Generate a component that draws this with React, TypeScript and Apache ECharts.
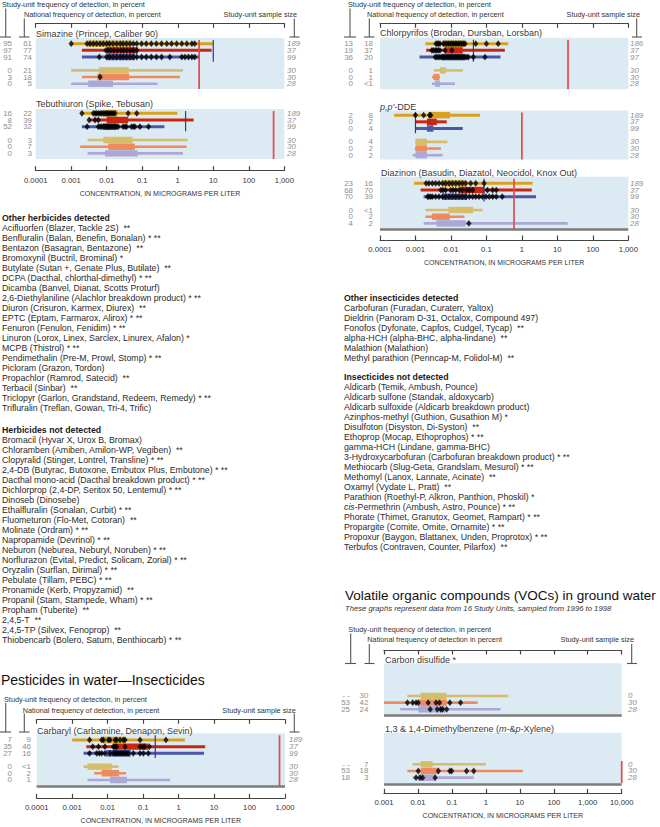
import React, { useEffect, useRef } from 'react';
import * as echarts from 'echarts';

const SANS = "'Liberation Sans', Arial, Helvetica, sans-serif";

// ---------- axis tick labels ----------
const PESTICIDE_TICKS = ['0.0001', '0.001', '0.01', '0.1', '1', '10', '100', '1,000'];
const VOC_TICKS = ['0.001', '0.01', '0.1', '1', '10', '100', '1,000', '10,000'];
const AXIS_TITLE = 'CONCENTRATION, IN MICROGRAMS PER LITER';

// row slots: 0-2 first group, 4-6 second group
const PESTICIDE_SLOTS = [0, 1, 2, 4, 5, 6];
const VOC_SLOTS = [4, 5, 6];

// ---------- Simazine ----------  [min, box low, box high, max]
const simazineBox = [
  [0.001, 0.003, 0.05, 10],
  [0.002, 0.01, 0.075, 9],
  [0.002, 0.01, 0.062, 4.2],
  [0.001, 0.006, 0.042, 1.4],
  [0.002, 0.0054, 0.043, 1.15],
  [0.001, 0.003, 0.015, 0.27],
];
const simazineHits = [
  [0.001, 0.0028, 0.0034, 0.0042, 0.0052, 0.0065, 0.008, 0.01, 0.012, 0.015, 0.019, 0.024, 0.029, 0.036, 0.045, 0.056, 0.07, 0.096, 0.13, 0.18, 0.25, 0.35, 0.49, 0.67, 0.93, 1.3, 1.8, 2.5, 3.0],
  [0.0095, 0.011, 0.013, 0.016, 0.02, 0.025, 0.03, 0.037, 0.046, 0.056, 0.07],
  [0.0062, 0.01, 0.012, 0.015, 0.019, 0.024, 0.029, 0.036, 0.045, 0.056, 0.07, 0.096, 0.13, 0.18, 0.25, 0.35, 0.6, 1.3, 1.6, 2.0, 2.5, 3.0],
  [],
  [0.0065],
  [],
];
const simazineStudyFreq = ['95', '97', '91', '0', '3', '0'];
const simazineNationalFreq = ['61', '77', '74', '21', '18', '5'];
const simazineSamples = ['189', '37', '99', '30', '30', '28'];
const simazineGuides = [10, 4]; // [benchmark (blue), criterion (red)]

// ---------- Tebuthiuron ----------
const tebuthiuronBox = [
  [0.002, 0.008, 0.02, 0.98],
  [0.0032, 0.01, 0.04, 2.8],
  [0.002, 0.008, 0.019, 0.42],
  [0.0029, 0.008, 0.053, 1.9],
  [0.0018, 0.011, 0.062, 1.77],
  [0.0029, 0.009, 0.074, 1.4],
];
const tebuthiuronHits = [
  [0.002, 0.0042, 0.0047, 0.0052, 0.0058, 0.0065, 0.0072, 0.008, 0.009, 0.01, 0.011, 0.012, 0.0135, 0.015, 0.017, 0.04, 0.07],
  [0.0032, 0.0047, 0.0058],
  [0.0028, 0.0058, 0.0065, 0.0072, 0.008, 0.009, 0.01, 0.011, 0.012, 0.0135, 0.015, 0.017, 0.019, 0.021, 0.029, 0.033, 0.036, 0.05, 0.056, 0.062, 0.086, 0.15],
  [],
  [],
  [],
];
const tebuthiuronStudyFreq = ['16', '8', '52', '0', '0', '0'];
const tebuthiuronNationalFreq = ['22', '39', '32', '3', '7', '3'];
const tebuthiuronSamples = ['189', '37', '99', '30', '30', '28'];
const tebuthiuronGuides = [1.66, 500];

// ---------- Chlorpyrifos ----------
const chlorpyrifosBox = [
  [0.0019, 0.0061, 0.025, 0.41],
  [0.002, 0.0068, 0.0215, 0.33],
  [0.0013, 0.0055, 0.025, 0.25],
  [0.0033, 0.0049, 0.0072, 0.0215],
  [0.0029, 0.0032, 0.0047, 0.0049],
  [0.0029, 0.0036, 0.0049, 0.013],
];
const chlorpyrifosHits = [
  [0.0038, 0.0041, 0.0045, 0.0049, 0.0061, 0.0068, 0.0076, 0.0085, 0.0095, 0.0106, 0.0118, 0.0132, 0.0147, 0.0164, 0.0183, 0.0204, 0.0228, 0.0251, 0.0498, 0.1, 0.215],
  [0.0029, 0.0032, 0.0036, 0.004, 0.0044, 0.0049, 0.0068, 0.0106],
  [0.0036, 0.004, 0.0044, 0.0049, 0.0055, 0.0061, 0.0068, 0.0076, 0.0085, 0.0095, 0.0106, 0.0118, 0.0132, 0.0147, 0.0164, 0.0183, 0.0204, 0.0228, 0.0251, 0.028, 0.031, 0.043, 0.091],
  [],
  [],
  [],
];
const chlorpyrifosStudyFreq = ['13', '19', '36', '0', '0', '0'];
const chlorpyrifosNationalFreq = ['18', '37', '20', '1', '1', '<1'];
const chlorpyrifosSamples = ['186', '37', '97', '30', '30', '28'];
const chlorpyrifosGuides = [0.043, 20];

// ---------- p,p'-DDE ----------
const ddeBox = [
  [0.00025, 0.0023, 0.0094, 0.066],
  [0.001, 0.0021, 0.004, 0.0076],
  [0.001, 0.0021, 0.0032, 0.0215],
  [0.001, 0.001, 0.0021, 0.0079],
  [0.00096, 0.001, 0.0021, 0.0052],
  [0.00083, 0.001, 0.0021, 0.0058],
];
const ddeHits = [[0.001, 0.0017, 0.0025, 0.0027], [], [], [], [], []];
const ddeStudyFreq = ['2', '0', '0', '0', '0', '0'];
const ddeNationalFreq = ['8', '2', '4', '4', '2', '2'];
const ddeSamples = ['189', '37', '99', '30', '30', '28'];
const ddeGuides = [0.001, 1];

// ---------- Diazinon ----------
const diazinonBox = [
  [0.00091, 0.0058, 0.026, 2.0],
  [0.0014, 0.017, 0.086, 1.9],
  [0.0017, 0.0058, 0.029, 2.5],
  [0.0019, 0.0085, 0.042, 0.078],
  [0.0019, 0.0029, 0.0092, 0.024],
  [0.0017, 0.0039, 0.026, 19.6],
];
const diazinonHits = [
  [0.002, 0.0024, 0.003, 0.0037, 0.0046, 0.0058, 0.0071, 0.0089, 0.011, 0.0137, 0.017, 0.021, 0.026, 0.036, 0.05, 0.086],
  [0.0052, 0.006, 0.0071, 0.0098, 0.0115, 0.0137, 0.017, 0.021, 0.027, 0.033, 0.041, 0.107, 0.15, 0.19],
  [0.0022, 0.0024, 0.0027, 0.003, 0.0037, 0.0046, 0.0058, 0.0071, 0.0089, 0.011, 0.0137, 0.017, 0.021, 0.026, 0.033, 0.041, 0.05, 0.062, 0.078, 0.097, 0.12, 0.15, 0.19, 0.28],
  [],
  [],
  [0.032],
];
const diazinonStudyFreq = ['23', '68', '70', '0', '0', '4'];
const diazinonNationalFreq = ['16', '70', '39', '<1', '2', '2'];
const diazinonSamples = ['189', '37', '99', '30', '30', '28'];
const diazinonGuides = [0.086, 0.6];

// ---------- Carbaryl ----------
const carbarylBox = [
  [0.001, 0.0068, 0.031, 1.5],
  [0.0025, 0.0145, 0.14, 5.6],
  [0.0021, 0.009, 0.045, 5.2],
  [0.0021, 0.0027, 0.013, 0.02],
  [0.0042, 0.0068, 0.021, 0.033],
  [0.0027, 0.0117, 0.035, 0.58],
];
const carbarylHits = [
  [0.0031, 0.0068, 0.0076, 0.0105, 0.0117, 0.0162, 0.018, 0.0224, 0.0278, 0.031, 0.082, 0.44],
  [0.0038, 0.0055, 0.0084, 0.0145, 0.0162, 0.018, 0.031, 0.082, 0.097, 0.11, 0.15],
  [0.0031, 0.0049, 0.0058, 0.0068, 0.0084, 0.0117, 0.0145, 0.0162, 0.018, 0.02, 0.0224, 0.025, 0.0278, 0.031, 0.0346, 0.0385, 0.053, 0.082, 0.102, 0.14],
  [],
  [],
  [],
];
const carbarylStudyFreq = ['7', '35', '27', '0', '0', '0'];
const carbarylNationalFreq = ['9', '46', '16', '<1', '2', '1'];
const carbarylSamples = ['189', '37', '99', '30', '30', '28'];
const carbarylGuides = [0.22, 700];

// ---------- Carbon disulfide (VOC) ----------
const carbonDisulfideBox = [
  [0.0049, 0.012, 0.07, 4.6],
  [0.001, 0.0102, 0.07, 0.57],
  [0.003, 0.0102, 0.063, 2.7],
];
const carbonDisulfideHits = [
  [],
  [0.0049, 0.007, 0.0088, 0.0102, 0.02, 0.034, 0.043, 0.087, 0.18],
  [0.023, 0.037, 0.047, 0.053, 0.07],
];
const carbonDisulfideStudyFreq = ['- -', '53', '25'];
const carbonDisulfideNationalFreq = ['30', '42', '24'];
const carbonDisulfideSamples = ['0', '30', '28'];
const carbonDisulfideGuides = [null, null];

// ---------- m- & p-Xylene (VOC) ----------
const xyleneBox = [
  [0.007, 0.012, 0.027, 1.0],
  [0.0049, 0.012, 0.04, 12.2],
  [0.007, 0.0102, 0.034, 0.44],
];
const xyleneHits = [
  [],
  [0.0102, 0.04, 0.087, 0.098, 0.27, 0.44],
  [0.0088, 0.0115, 0.0137, 0.032],
];
const xyleneStudyFreq = ['- -', '53', '18'];
const xyleneNationalFreq = ['7', '18', '3'];
const xyleneSamples = ['0', '30', '28'];
const xyleneGuides = [null, 10000];

// ---------- lists ----------
const otherHerbicidesDetected = [
  'Acifluorfen (Blazer, Tackle 2S)  **',
  'Benfluralin (Balan, Benefin, Bonalan) * **',
  'Bentazon (Basagran, Bentazone)  **',
  'Bromoxynil (Buctril, Brominal) *',
  'Butylate (Sutan +, Genate Plus, Butilate)  **',
  'DCPA (Dacthal, chlorthal-dimethyl) * **',
  'Dicamba (Banvel, Dianat, Scotts Proturf)',
  '2,6-Diethylaniline (Alachlor breakdown product) * **',
  'Diuron (Crisuron, Karmex, Diurex)  **',
  'EPTC (Eptam, Farmarox, Alirox) * **',
  'Fenuron (Fenulon, Fenidim) * **',
  'Linuron (Lorox, Linex, Sarclex, Linurex, Afalon) *',
  'MCPB (Thistrol) * **',
  'Pendimethalin (Pre-M, Prowl, Stomp) * **',
  'Picloram (Grazon, Tordon)',
  'Propachlor (Ramrod, Satecid)  **',
  'Terbacil (Sinbar)  **',
  'Triclopyr (Garlon, Grandstand, Redeem, Remedy) * **',
  'Trifluralin (Treflan, Gowan, Tri-4, Trific)',
];
const herbicidesNotDetected = [
  'Bromacil (Hyvar X, Urox B, Bromax)',
  'Chloramben (Amiben, Amilon-WP, Vegiben)  **',
  'Clopyralid (Stinger, Lontrel, Transline) * **',
  '2,4-DB (Butyrac, Butoxone, Embutox Plus, Embutone) * **',
  'Dacthal mono-acid (Dacthal breakdown product) * **',
  'Dichlorprop (2,4-DP, Seritox 50, Lentemul) * **',
  'Dinoseb (Dinosebe)',
  'Ethalfluralin (Sonalan, Curbit) * **',
  'Fluometuron (Flo-Met, Cotoran)  **',
  'Molinate (Ordram) * **',
  'Napropamide (Devrinol) * **',
  'Neburon (Neburea, Neburyl, Noruben) * **',
  'Norflurazon (Evital, Predict, Solicam, Zorial) * **',
  'Oryzalin (Surflan, Dirimal) * **',
  'Pebulate (Tillam, PEBC) * **',
  'Pronamide (Kerb, Propyzamid)  **',
  'Propanil (Stam, Stampede, Wham) * **',
  'Propham (Tuberite)  **',
  '2,4,5-T  **',
  '2,4,5-TP (Silvex, Fenoprop)  **',
  'Thiobencarb (Bolero, Saturn, Benthiocarb) * **',
];
const otherInsecticidesDetected = [
  'Carbofuran (Furadan, Curaterr, Yaltox)',
  'Dieldrin (Panoram D-31, Octalox, Compound 497)',
  'Fonofos (Dyfonate, Capfos, Cudgel, Tycap)  **',
  'alpha-HCH (alpha-BHC, alpha-lindane)  **',
  'Malathion (Malathion)',
  'Methyl parathion (Penncap-M, Folidol-M)  **',
];
const insecticidesNotDetected = [
  'Aldicarb (Temik, Ambush, Pounce)',
  'Aldicarb sulfone (Standak, aldoxycarb)',
  'Aldicarb sulfoxide (Aldicarb breakdown product)',
  'Azinphos-methyl (Guthion, Gusathion M) *',
  'Disulfoton (Disyston, Di-Syston)  **',
  'Ethoprop (Mocap, Ethoprophos) * **',
  'gamma-HCH (Lindane, gamma-BHC)',
  '3-Hydroxycarbofuran (Carbofuran breakdown product) * **',
  'Methiocarb (Slug-Geta, Grandslam, Mesurol) * **',
  'Methomyl (Lanox, Lannate, Acinate)  **',
  'Oxamyl (Vydate L, Pratt)  **',
  'Parathion (Roethyl-P, Alkron, Panthion, Phoskil) *',
  'cis-Permethrin (Ambush, Astro, Pounce) * **',
  'Phorate (Thimet, Granutox, Geomet, Rampart) * **',
  'Propargite (Comite, Omite, Ornamite) * **',
  'Propoxur (Baygon, Blattanex, Unden, Proprotox) * **',
  'Terbufos (Contraven, Counter, Pilarfox)  **',
];

// ---------- styles ----------
const SLOT_COLORS = ['#D9A21E', '#C9260F', '#4C57A7', '', '#D6BD6C', '#EF8A5E', '#ABA8D6'];
const PLOT_BG = '#DCEAF4';
const AXIS_COLOR = '#444';
const NUM_COLOR = '#8E8E8E';
const BLUE_GUIDE = '#2B3A8F';
const RED_GUIDE = '#E5484E';
const ROW_UNIT = 6.67;
const LIST_FONT = 8.75;
const LIST_STEP = 10;

const PANELS: any[] = [
  { title: 'Simazine (Princep, Caliber 90)', box: simazineBox, hits: simazineHits, study: simazineStudyFreq, national: simazineNationalFreq, samples: simazineSamples, guides: simazineGuides, slots: PESTICIDE_SLOTS, ticks: PESTICIDE_TICKS, xMin: 1e-4, xMax: 1e3,
    left: 35.7, top: 38, width: 248.6, height: 51, yMin: -0.85, topAxisY: 23.3, titleXY: [36, 33.5], numX: [12, 32, 287] },
  { title: 'Tebuthiuron (Spike, Tebusan)', box: tebuthiuronBox, hits: tebuthiuronHits, study: tebuthiuronStudyFreq, national: tebuthiuronNationalFreq, samples: tebuthiuronSamples, guides: tebuthiuronGuides, slots: PESTICIDE_SLOTS, ticks: PESTICIDE_TICKS, xMin: 1e-4, xMax: 1e3,
    left: 35.7, top: 109, width: 248.6, height: 50, yMin: -0.65, bottomAxisY: 170.7, titleXY: [36, 104], numX: [12, 32, 287] },
  { title: 'Chlorpyrifos (Brodan, Dursban, Lorsban)', box: chlorpyrifosBox, hits: chlorpyrifosHits, study: chlorpyrifosStudyFreq, national: chlorpyrifosNationalFreq, samples: chlorpyrifosSamples, guides: chlorpyrifosGuides, slots: PESTICIDE_SLOTS, ticks: PESTICIDE_TICKS, xMin: 1e-4, xMax: 1e3,
    left: 380, top: 37.7, width: 248.3, height: 51.6, yMin: -0.9, topAxisY: 23.3, titleXY: [380, 33.3], numX: [353, 373, 630] },
  { title: "{i|p,p'}-DDE", rich: true, box: ddeBox, hits: ddeHits, study: ddeStudyFreq, national: ddeNationalFreq, samples: ddeSamples, guides: ddeGuides, slots: PESTICIDE_SLOTS, ticks: PESTICIDE_TICKS, xMin: 1e-4, xMax: 1e3,
    left: 380, top: 110.5, width: 248.3, height: 49, yMin: -0.7, titleXY: [380, 106.5], numX: [353, 373, 630] },
  { title: 'Diazinon (Basudin, Diazatol, Neocidol, Knox Out)', box: diazinonBox, hits: diazinonHits, study: diazinonStudyFreq, national: diazinonNationalFreq, samples: diazinonSamples, guides: diazinonGuides, slots: PESTICIDE_SLOTS, ticks: PESTICIDE_TICKS, xMin: 1e-4, xMax: 1e3,
    left: 380, top: 176.7, width: 248.3, height: 52.3, yMin: -1.0, bottomAxisY: 240, titleXY: [381, 173.3], numX: [353, 373, 630] },
  { title: 'Carbaryl (Carbamine, Denapon, Sevin)', box: carbarylBox, hits: carbarylHits, study: carbarylStudyFreq, national: carbarylNationalFreq, samples: carbarylSamples, guides: carbarylGuides, slots: PESTICIDE_SLOTS, ticks: PESTICIDE_TICKS, xMin: 1e-4, xMax: 1e3,
    left: 36.7, top: 733.3, width: 248.3, height: 52.7, yMin: -1.0, topAxisY: 719.3, bottomAxisY: 798.3, titleXY: [37, 730.7], numX: [12, 31, 289] },
  { title: 'Carbon disulfide *', box: carbonDisulfideBox, hits: carbonDisulfideHits, study: carbonDisulfideStudyFreq, national: carbonDisulfideNationalFreq, samples: carbonDisulfideSamples, guides: carbonDisulfideGuides, slots: VOC_SLOTS, ticks: VOC_TICKS, xMin: 1e-3, xMax: 1e4,
    left: 384, top: 663.3, width: 237.7, height: 51.7, yMin: -0.9, topAxisY: 650, titleXY: [385, 659.5], numX: [350, 368.3, 628] },
  { title: '1,3 & 1,4-Dimethylbenzene ({i|m}-&{i|p}-Xylene)', rich: true, box: xyleneBox, hits: xyleneHits, study: xyleneStudyFreq, national: xyleneNationalFreq, samples: xyleneSamples, guides: xyleneGuides, slots: VOC_SLOTS, ticks: VOC_TICKS, xMin: 1e-3, xMax: 1e4,
    left: 384, top: 732.7, width: 237.7, height: 51.3, yMin: -0.74, bottomAxisY: 793.3, titleXY: [385, 729], numX: [350, 368.3, 628], redGroup2: true },
];

function txt(x: number, y: number, text: string, o: any = {}) {
  const fontSize = o.fontSize || LIST_FONT;
  const style: any = {
    text,
    x: 0,
    y: 0,
    fill: o.fill || '#222',
    fontSize,
    fontFamily: o.fontFamily || SANS,
    fontWeight: o.fontWeight || 'normal',
    fontStyle: o.fontStyle || 'normal',
    align: o.align || 'left',
    textAlign: o.align || 'left',
    verticalAlign: 'middle',
    textVerticalAlign: 'middle',
  };
  if (o.rich) {
    style.rich = {
      i: { fontStyle: 'italic', fontSize, fontFamily: o.fontFamily || SANS, fill: o.fill || '#222' },
    };
  }
  return { type: 'text', x, y, silent: true, style };
}

function seg(x1: number, y1: number, x2: number, y2: number, color = '#555', w = 1.1) {
  return { type: 'line', silent: true, shape: { x1, y1, x2, y2 }, style: { stroke: color, lineWidth: w } };
}

function headerBlock(els: any[], c: any) {
  const hs = { fontSize: 7.3, fill: '#333' };
  els.push(txt(c.study[0], c.study[1], 'Study-unit frequency of detection, in percent', hs));
  els.push(txt(c.national[0], c.national[1], c.nationalText, hs));
  els.push(txt(c.size[0], c.size[1], 'Study-unit sample size', { ...hs, align: 'right' }));
  c.brackets.forEach((b: number[]) => {
    els.push(seg(b[0], b[1], b[0], b[2]));
    els.push(seg(b[3], b[2], b[4], b[2]));
  });
}

function listBlock(els: any[], x: number, y0: number, gap: number, h1: string, items1: string[], h2: string, items2: string[]) {
  let y = y0;
  els.push(txt(x, y, h1, { fontWeight: 'bold', fill: '#1a1a1a' }));
  items1.forEach((t) => { y += LIST_STEP; els.push(txt(x, y, t, { fill: '#2a2a2a' })); });
  y += LIST_STEP + gap;
  els.push(txt(x, y, h2, { fontWeight: 'bold', fill: '#1a1a1a' }));
  items2.forEach((t) => {
    y += LIST_STEP;
    if (t.startsWith('cis-')) els.push(txt(x, y, '{i|cis}' + t.slice(3), { fill: '#2a2a2a', rich: true }));
    else els.push(txt(x, y, t, { fill: '#2a2a2a' }));
  });
}

function buildOption() {
  const grid: any[] = [];
  const xAxis: any[] = [];
  const yAxis: any[] = [];
  const series: any[] = [];
  const elements: any[] = [];

  PANELS.forEach((p, gi) => {
    const yMax = p.yMin + p.height / ROW_UNIT;
    grid.push({ left: p.left, top: p.top, width: p.width, height: p.height, show: true, backgroundColor: PLOT_BG, borderWidth: 0, outerBoundsMode: 'none', containLabel: false });
    yAxis.push({ type: 'value', gridIndex: gi, min: p.yMin, max: yMax, inverse: true, show: false });
    const base = { type: 'log', logBase: 10, gridIndex: gi, min: p.xMin, max: p.xMax, splitNumber: 7, splitLine: { show: false }, minorTick: { show: false } };
    const axisLine = { show: true, onZero: false, lineStyle: { color: AXIS_COLOR, width: 1.2 } };
    const axisTick = { show: true, inside: true, length: 4.5, lineStyle: { color: AXIS_COLOR, width: 1.2 } };
    let main = -1;
    if (p.topAxisY != null) {
      xAxis.push({ ...base, position: 'top', offset: p.top - p.topAxisY, axisLine, axisTick, axisLabel: { show: false } });
      main = xAxis.length - 1;
    }
    if (p.bottomAxisY != null) {
      const minExp = Math.round(Math.log10(p.xMin));
      xAxis.push({
        ...base, position: 'bottom', offset: p.bottomAxisY - (p.top + p.height), axisLine, axisTick,
        axisLabel: {
          show: true, margin: 5.5, fontSize: 7.7, color: '#333', fontFamily: SANS, showMinLabel: true, showMaxLabel: true,
          formatter: (v: number) => p.ticks[Math.round(Math.log10(v)) - minExp] ?? '',
        },
        name: AXIS_TITLE, nameLocation: 'middle', nameGap: 19,
        nameTextStyle: { fontSize: 7, color: '#333', fontFamily: SANS },
      });
      if (main < 0) main = xAxis.length - 1;
    }
    if (main < 0) {
      xAxis.push({ ...base, show: false });
      main = xAxis.length - 1;
    }

    // whiskers + boxes
    series.push({
      type: 'custom', xAxisIndex: main, yAxisIndex: gi, silent: true, clip: false, z: 2,
      dimensions: ['slot', 'min', 'low', 'high', 'max'],
      encode: { x: [1, 2, 3, 4], y: 0 },
      data: p.box.map((b: number[], i: number) => [p.slots[i], ...b]),
      renderItem: (params: any, api: any) => {
        const slot = api.value(0);
        const a = api.coord([api.value(1), slot]);
        const l = api.coord([api.value(2), slot]);
        const h = api.coord([api.value(3), slot]);
        const b = api.coord([api.value(4), slot]);
        const color = SLOT_COLORS[slot];
        const wh = slot < 3 ? 3 : 2.6;
        const bh = 6.4;
        return {
          type: 'group',
          children: [
            { type: 'rect', shape: { x: a[0], y: a[1] - wh / 2, width: Math.max(b[0] - a[0], 1), height: wh }, style: { fill: color } },
            { type: 'rect', shape: { x: l[0], y: l[1] - bh / 2, width: Math.max(h[0] - l[0], 2), height: bh }, style: { fill: color } },
          ],
        };
      },
    });

    // guide lines
    const guideData: any[] = [];
    if (p.guides[0] != null) guideData.push([p.guides[0], 0]);
    if (p.guides[1] != null) guideData.push([p.guides[1], 1]);
    series.push({
      type: 'custom', xAxisIndex: main, yAxisIndex: gi, silent: true, clip: false, z: 3,
      encode: { x: 0, y: 1 },
      data: guideData,
      renderItem: (params: any, api: any) => {
        const v = api.value(0);
        const kind = api.value(1);
        let from = p.yMin + 0.3;
        let to = kind === 0 ? 2.7 : yMax;
        if (kind === 1 && p.redGroup2) { from = 3.5; to = yMax - 0.15; }
        const s = api.coord([v, from]);
        const e = api.coord([v, to]);
        return {
          type: 'line',
          shape: { x1: s[0], y1: s[1], x2: e[0], y2: e[1] },
          style: { stroke: kind === 0 ? BLUE_GUIDE : RED_GUIDE, lineWidth: kind === 0 ? 1.2 : 1.7 },
        };
      },
    });

    // detections (diamonds) + bottom border
    const hitData: any[] = [];
    p.hits.forEach((row: number[], i: number) => row.forEach((v) => hitData.push([v, p.slots[i]])));
    series.push({
      type: 'scatter', xAxisIndex: main, yAxisIndex: gi, silent: true, z: 4,
      symbol: 'diamond', symbolSize: [5.3, 6.8],
      itemStyle: { color: '#000' },
      data: hitData,
      markLine: {
        silent: true, symbol: ['none', 'none'], label: { show: false },
        lineStyle: { color: '#7C7C7C', width: 2.6, type: 'solid' },
        data: [{ yAxis: yMax }],
      },
    });

    // frequency / sample-size numbers
    series.push({
      type: 'custom', xAxisIndex: main, yAxisIndex: gi, silent: true, clip: false, z: 5,
      encode: { x: 0, y: 1 },
      data: p.slots.map((s: number) => [1, s]),
      renderItem: (params: any, api: any) => {
        const i = params.dataIndex;
        const y = api.coord([1, api.value(1)])[1];
        const st = (text: string, align: string, italic: boolean) => ({
          text, fill: NUM_COLOR, fontSize: 7.9, fontFamily: SANS, fontStyle: italic ? 'italic' : 'normal',
          align, textAlign: align, verticalAlign: 'middle', textVerticalAlign: 'middle',
        });
        return {
          type: 'group',
          children: [
            { type: 'text', x: p.numX[0], y, style: st(p.study[i], 'right', false) },
            { type: 'text', x: p.numX[1], y, style: st(p.national[i], 'right', false) },
            { type: 'text', x: p.numX[2], y, style: st(p.samples[i], 'left', true) },
          ],
        };
      },
    });

    elements.push(txt(p.titleXY[0], p.titleXY[1], p.title, { fontSize: 9, fill: '#3a3a3a', rich: !!p.rich }));
  });

  // headers & brackets
  headerBlock(elements, {
    study: [2, 4.5], national: [24, 14.3], nationalText: 'National frequency of detection, in percent', size: [297, 14.3],
    brackets: [[5.7, 8.5, 37, 0, 11], [24.3, 18.5, 37, 19, 29.5], [294.3, 18.5, 37, 289.5, 299.5]],
  });
  headerBlock(elements, {
    study: [348, 4.5], national: [367, 14.3], nationalText: 'National frequency of detection, in percent', size: [640, 14.3],
    brackets: [[350, 8.5, 37, 344, 356], [369.3, 18.5, 37, 364, 374.5], [636.7, 18.5, 37, 632, 642]],
  });
  headerBlock(elements, {
    study: [4, 699.5], national: [22.7, 710], nationalText: 'National frequency of detection, in percent', size: [295.7, 710],
    brackets: [[5.7, 703, 732, 0, 11], [24.3, 713.5, 732, 19, 29.5], [294.3, 713.5, 732, 289.5, 299.5]],
  });
  headerBlock(elements, {
    study: [348.3, 629.5], national: [367.3, 639.5], nationalText: 'National frequency of detection in percent', size: [634, 639.5],
    brackets: [[350.7, 633.5, 663.5, 345, 356], [369.3, 644, 663.5, 364.5, 374.5], [631.7, 644, 663.5, 627, 637]],
  });

  // section titles
  elements.push(txt(1, 680, 'Pesticides in water\u2014Insecticides', { fontSize: 14, fill: '#111' }));
  elements.push(txt(345, 595, 'Volatile organic compounds (VOCs) in ground water', { fontSize: 13.5, fill: '#111' }));
  elements.push(txt(345, 608.5, 'These graphs represent data from 16 Study Units, sampled from 1996 to 1998', { fontSize: 7.7, fill: '#333', fontStyle: 'italic' }));

  // lists
  listBlock(elements, 2, 218, 12, 'Other herbicides detected', otherHerbicidesDetected, 'Herbicides not detected', herbicidesNotDetected);
  listBlock(elements, 344, 298, 9, 'Other insecticides detected', otherInsecticidesDetected, 'Insecticides not detected', insecticidesNotDetected);

  return {
    animation: false,
    backgroundColor: '#fff',
    textStyle: { fontFamily: SANS },
    grid,
    xAxis,
    yAxis,
    series,
    graphic: { elements },
  };
}

export default function App() {
  const ref = useRef<HTMLDivElement>(null);
  useEffect(() => {
    const chart = echarts.init(ref.current as HTMLDivElement, undefined, { renderer: 'svg' });
    chart.setOption(buildOption() as any);
    return () => chart.dispose();
  }, []);
  return <div ref={ref} style={{ position: 'absolute', left: 0, top: 0, width: 660, height: 827, background: '#fff' }} />;
}
